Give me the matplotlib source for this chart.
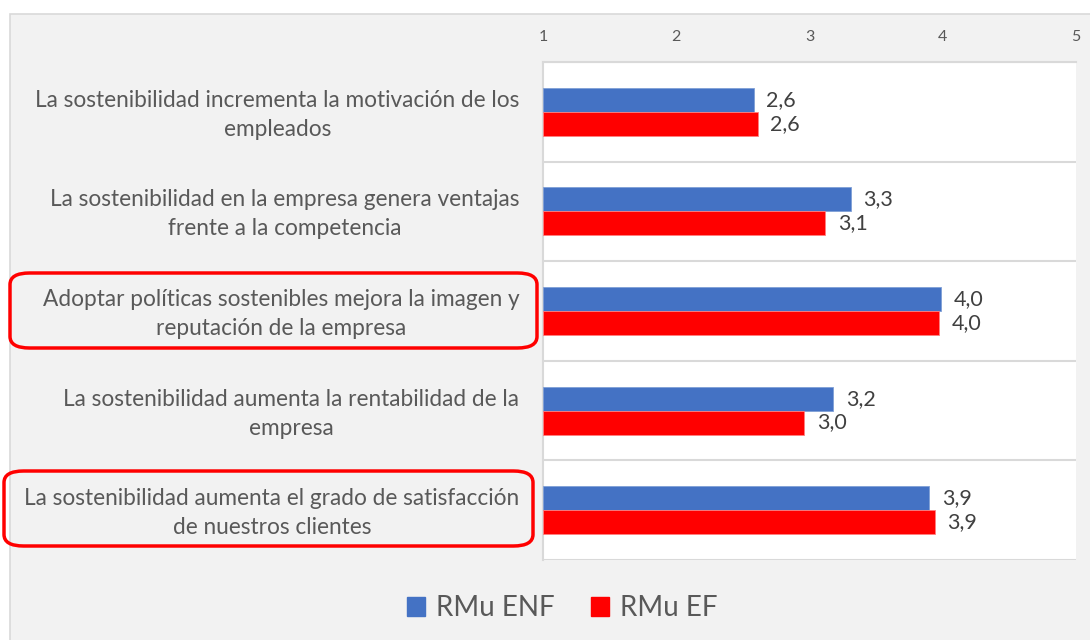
import numpy as np
import matplotlib.pyplot as plt
import matplotlib.transforms as mtransforms
from matplotlib.patches import Patch, Rectangle, FancyBboxPatch

# Data (scale 1-5)
categories = [
    "La sostenibilidad incrementa la motivación de los\nempleados",
    "La sostenibilidad en la empresa genera ventajas\nfrente a la competencia",
    "Adoptar políticas sostenibles mejora la imagen y\nreputación de la empresa",
    "La sostenibilidad aumenta la rentabilidad de la\nempresa",
    "La sostenibilidad aumenta el grado de satisfacción\nde nuestros clientes",
]
rmu_enf = [2.58, 3.31, 3.99, 3.18, 3.90]
rmu_ef = [2.61, 3.12, 3.97, 2.96, 3.94]
series_names = ["RMu ENF", "RMu EF"]
x_ticks = [1, 2, 3, 4, 5]
highlighted = [2, 4]

BLUE = "#4472C4"
RED = "#FF0000"
TEXT = "#595959"
GRID = "#d9d9d9"

plt.rcParams['font.family'] = ['Lato', 'DejaVu Sans']

fig = plt.figure(figsize=(10.9, 6.4), dpi=100)
fig.patch.set_facecolor("white")

# Light gray chart panel behind everything
fig.patches.append(Rectangle((10 / 1090, -0.05), 1.0, 1.05 - 14 / 640,
                             transform=fig.transFigure, facecolor="#f2f2f2",
                             edgecolor=GRID, lw=1.2, zorder=-10))

ax = fig.add_axes([543 / 1090, 1 - 560 / 640, (1076 - 543) / 1090, (560 - 62) / 640])
ax.set_facecolor("white")

y = np.arange(len(categories))
h = 0.24
ax.barh(y - h / 2, np.array(rmu_enf) - 1, left=1, height=h, color=BLUE,
        edgecolor="#7f9fd6", lw=0.6, zorder=3)
ax.barh(y + h / 2, np.array(rmu_ef) - 1, left=1, height=h, color=RED,
        edgecolor="#ff8080", lw=0.6, zorder=3)

for vals, off in ((rmu_enf, -h / 2), (rmu_ef, h / 2)):
    for i, v in enumerate(vals):
        ax.annotate(f"{v:.1f}".replace(".", ","), (v, i + off), xytext=(9, 0),
                    textcoords="offset points", va="center", ha="left",
                    fontsize=15.5, color="#404040")

ax.set_xlim(1, 5)
ax.set_ylim(len(categories) - 0.5, -0.5)
ax.xaxis.tick_top()
ax.set_xticks(x_ticks)
ax.set_xticklabels([str(t) for t in x_ticks], fontsize=11.5, color=TEXT)
ax.tick_params(axis="x", length=0, pad=13)

ax.set_yticks(y)
ax.set_yticklabels(categories, fontsize=16.3, color=TEXT, ha="right",
                   multialignment="center", linespacing=1.47)
ax.tick_params(axis="y", length=0, pad=17)
# nudge category labels up a little
shift = mtransforms.ScaledTranslation(0, 3 / 100, fig.dpi_scale_trans)
for lbl in ax.get_yticklabels():
    lbl.set_transform(lbl.get_transform() + shift)
ax.set_yticks(np.arange(-0.5, len(categories)), minor=True)
ax.tick_params(axis="y", which="minor", length=0)
ax.grid(which="minor", axis="y", color=GRID, lw=1.5, zorder=0)

for side in ("right", "bottom"):
    ax.spines[side].set_visible(False)
for side in ("top", "left"):
    ax.spines[side].set_color(GRID)
    ax.spines[side].set_linewidth(1.5)

# Red rounded highlight boxes around selected labels
boxes = {2: (10, 273, 537, 348), 4: (4, 471, 533, 546)}
for idx in highlighted:
    x0, y0, x1, y1 = boxes[idx]
    fig.patches.append(FancyBboxPatch(
        (x0 / 1090, 1 - y1 / 640), (x1 - x0) / 1090, (y1 - y0) / 640,
        boxstyle="round,pad=0,rounding_size=0.018", transform=fig.transFigure,
        facecolor="none", edgecolor=RED, lw=2.5, zorder=5))

handles = [Patch(color=BLUE, label=series_names[0]),
           Patch(color=RED, label=series_names[1])]
leg = fig.legend(handles=handles, loc="center", bbox_to_anchor=(0.516, 1 - 608 / 640),
                 ncol=2, frameon=False, fontsize=20, handlelength=0.65,
                 handleheight=0.65, handletextpad=0.4, columnspacing=1.3)
for t in leg.get_texts():
    t.set_color(TEXT)

fig.savefig("out.png", dpi=100)
